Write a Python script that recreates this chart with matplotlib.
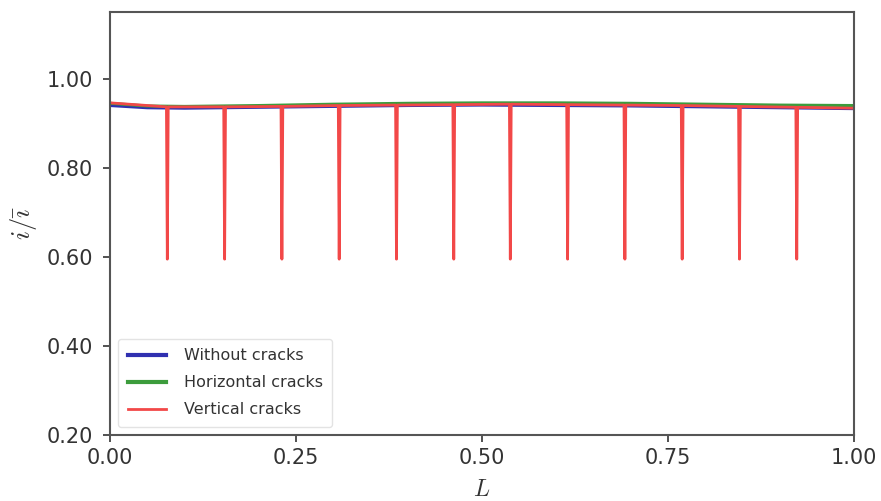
import numpy as np
import matplotlib
matplotlib.use("Agg")
import matplotlib.pyplot as plt

plt.rcParams['mathtext.fontset'] = 'cm'

# smooth curves
L = [0.0, 0.05, 0.1, 0.2, 0.3, 0.4, 0.5, 0.6, 0.7, 0.8, 0.9, 1.0]
without = [0.940, 0.935, 0.934, 0.936, 0.938, 0.940, 0.941, 0.940, 0.939, 0.937, 0.935, 0.933]
horizontal = [0.945, 0.939, 0.938, 0.940, 0.943, 0.945, 0.946, 0.946, 0.945, 0.943, 0.941, 0.940]

# vertical cracks: baseline with sharp drops at crack positions
red_ends_x = [0.0, 1.0]
red_ends_y = [0.946, 0.934]
spike_x = [0.077, 0.154, 0.231, 0.308, 0.385, 0.462, 0.538, 0.615, 0.692, 0.769, 0.846, 0.923]
spike_top = [0.937, 0.937, 0.938, 0.940, 0.941, 0.942, 0.943, 0.942, 0.941, 0.940, 0.938, 0.936]
spike_low = [0.595] * 12

xr = [red_ends_x[0]]
yr = [red_ends_y[0]]
for sx, st, sl in zip(spike_x, spike_top, spike_low):
    xr += [sx - 0.0012, sx, sx + 0.0012]
    yr += [st, sl, st]
xr.append(red_ends_x[1])
yr.append(red_ends_y[1])

fig = plt.figure(figsize=(8.81, 5.01), dpi=100)
ax = fig.add_axes([0.1249, 0.1317, 0.8445, 0.8443])

ax.plot(L, without, color='#3030b0', lw=2.2, label='Without cracks')
ax.plot(L, horizontal, color='#3c9c3c', lw=2.2, label='Horizontal cracks')
ax.plot(xr, yr, color='#f24848', lw=2.0, label='Vertical cracks')

ax.set_xlim(0, 1)
ax.set_ylim(0.2, 1.15)
ax.set_xticks([0, 0.25, 0.5, 0.75, 1.0])
ax.set_xticklabels(['0.00', '0.25', '0.50', '0.75', '1.00'])
ax.set_yticks([0.2, 0.4, 0.6, 0.8, 1.0])
ax.set_yticklabels(['0.20', '0.40', '0.60', '0.80', '1.00'])
ax.tick_params(labelsize=15, colors='#333333', pad=4, width=1.2, length=5)
ax.tick_params(axis='y', pad=7)
for s in ax.spines.values():
    s.set_color('#555555')
    s.set_linewidth(1.5)

ax.set_xlabel('$L$', fontsize=17, color='#333333', labelpad=7)
ax.set_ylabel(r'$i/\bar{\imath}$', fontsize=19, color='#333333', labelpad=6)

leg = ax.legend(loc='lower left', fontsize=11.5, frameon=True, handlelength=2.4,
                handletextpad=1.1, borderaxespad=0.5, labelspacing=0.75,
                borderpad=0.6)
leg.get_frame().set_edgecolor('#dddddd')
leg.get_lines()[0].set_linewidth(3)
leg.get_lines()[1].set_linewidth(3)
leg.get_lines()[2].set_linewidth(2)
for t in leg.get_texts():
    t.set_color('#333333')

fig.savefig('out.png', dpi=100)
